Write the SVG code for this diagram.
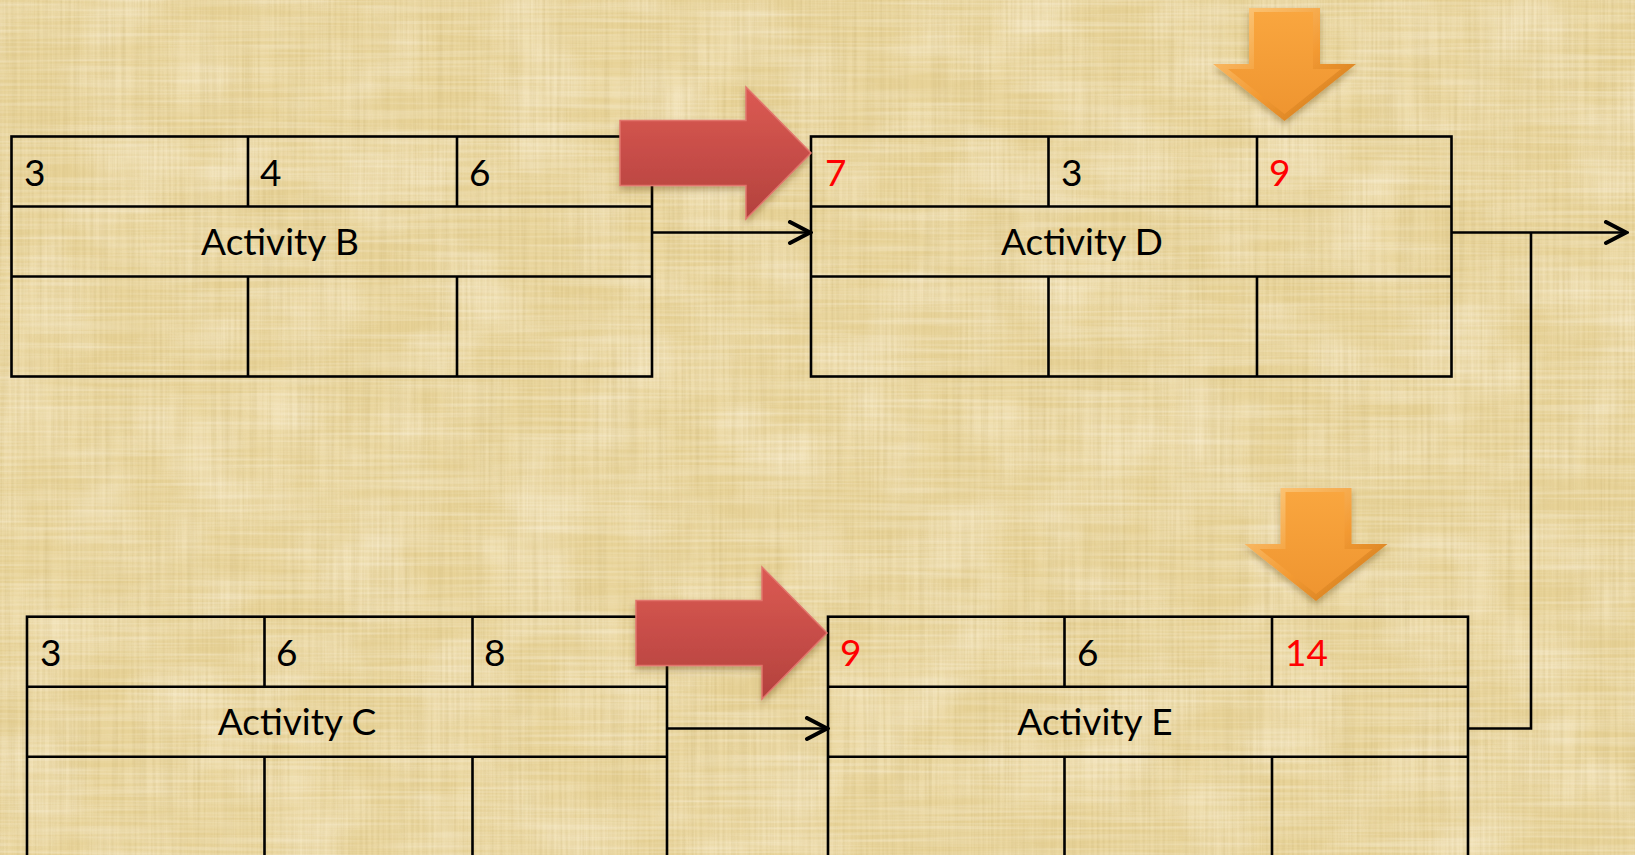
<svg xmlns="http://www.w3.org/2000/svg" width="1635" height="855" viewBox="0 0 1635 855">
<style>
.grid{fill:none;stroke:#000;stroke-width:2.6}
.num{font-family:Lato,"Liberation Sans",sans-serif;font-size:37px;fill:#000}
.red{fill:#ff0000}
.lbl{font-family:Lato,"Liberation Sans",sans-serif;font-size:37px;fill:#000;text-anchor:middle}
.conn{fill:none;stroke:#000;stroke-width:2.6}
</style>
<defs>
<filter id="fibV" x="0" y="0" width="100%" height="100%">
<feTurbulence type="fractalNoise" baseFrequency="0.35 0.006" numOctaves="2" seed="3"/>
<feColorMatrix type="matrix" values="0 0 0 0 0.6  0 0 0 0 0.46  0 0 0 0 0.18  0 0 0 1.2 -0.42"/>
</filter>
<filter id="fibH" x="0" y="0" width="100%" height="100%">
<feTurbulence type="fractalNoise" baseFrequency="0.006 0.3" numOctaves="2" seed="7"/>
<feColorMatrix type="matrix" values="0 0 0 0 1  0 0 0 0 0.96  0 0 0 0 0.86  0 0 0 1.1 -0.4"/>
</filter>
<filter id="blot" x="0" y="0" width="100%" height="100%">
<feTurbulence type="fractalNoise" baseFrequency="0.012 0.015" numOctaves="3" seed="11"/>
<feColorMatrix type="matrix" values="0 0 0 0 0.98  0 0 0 0 0.9  0 0 0 0 0.72  0 0 0 1.2 -0.45"/>
</filter>
<linearGradient id="redG" x1="0" y1="0" x2="0" y2="1">
<stop offset="0" stop-color="#dc5a53"/>
<stop offset="1" stop-color="#b3413d"/>
</linearGradient>
<linearGradient id="orOuter" x1="0" y1="0" x2="1" y2="1">
<stop offset="0" stop-color="#fdcf86"/>
<stop offset="0.55" stop-color="#f39a33"/>
<stop offset="1" stop-color="#c87418"/>
</linearGradient>
<linearGradient id="orInner" x1="0" y1="0" x2="0" y2="1">
<stop offset="0" stop-color="#f9a63f"/>
<stop offset="1" stop-color="#ef9530"/>
</linearGradient>
<filter id="shadow" x="-20%" y="-20%" width="140%" height="150%">
<feDropShadow dx="0" dy="4" stdDeviation="3" flood-color="#5a3a10" flood-opacity="0.35"/>
</filter>
<marker id="chev" viewBox="0 0 26 26" refX="23" refY="13" markerWidth="26" markerHeight="26" markerUnits="userSpaceOnUse" orient="auto">
<path d="M3,2.5 L23,13 L3,23.5" fill="none" stroke="#000" stroke-width="4" stroke-linecap="round" stroke-linejoin="miter"/>
</marker>
<path id="redArrow" d="M0,33.5 H126 V0 L191,66 L126,132 V98.5 H0 Z"/>
<path id="orArrowOut" d="M36,0 H107 V56 H143 L71.5,113 L0,56 H36 Z"/>
<path id="orArrowIn" d="M41,4 H100 V61 H128 L71.5,106 L15,61 H41 Z"/>
</defs>

<g id="background">
<rect x="0" y="0" width="1635" height="855" fill="#e8d398"/>
<rect x="0" y="0" width="1635" height="855" filter="url(#blot)" opacity="0.8"/>
<rect x="0" y="0" width="1635" height="855" filter="url(#fibV)" opacity="0.6"/>
<rect x="0" y="0" width="1635" height="855" filter="url(#fibH)" opacity="0.6"/>
</g>

<g id="node-B">
<rect class="grid" x="11.5" y="136.5" width="640.5" height="240"/>
<path class="grid" d="M11.5,206.5 H652 M11.5,276.5 H652 M248,136.5 V206.5 M457,136.5 V206.5 M248,276.5 V376.5 M457,276.5 V376.5"/>
<text class="num" x="24" y="186">3</text>
<text class="num" x="260" y="186">4</text>
<text class="num" x="469" y="186">6</text>
<text class="lbl" x="280" y="255">Activity B</text>
</g>

<g id="node-D">
<rect class="grid" x="811" y="136.5" width="640.5" height="240"/>
<path class="grid" d="M811,206.5 H1451.5 M811,276.5 H1451.5 M1048.5,136.5 V206.5 M1257,136.5 V206.5 M1048.5,276.5 V376.5 M1257,276.5 V376.5"/>
<text class="num red" x="825" y="186">7</text>
<text class="num" x="1061" y="186">3</text>
<text class="num red" x="1269" y="186">9</text>
<text class="lbl" x="1082" y="255">Activity D</text>
</g>

<g id="node-C">
<rect class="grid" x="27" y="616.7" width="640" height="260"/>
<path class="grid" d="M27,686.7 H667 M27,756.7 H667 M264.5,616.7 V686.7 M472.5,616.7 V686.7 M264.5,756.7 V860 M472.5,756.7 V860"/>
<text class="num" x="40" y="666">3</text>
<text class="num" x="276" y="666">6</text>
<text class="num" x="484" y="666">8</text>
<text class="lbl" x="297" y="735">Activity C</text>
</g>

<g id="node-E">
<rect class="grid" x="828" y="616.7" width="640" height="260"/>
<path class="grid" d="M828,686.7 H1468 M828,756.7 H1468 M1064.5,616.7 V686.7 M1272,616.7 V686.7 M1064.5,756.7 V860 M1272,756.7 V860"/>
<text class="num red" x="840" y="666">9</text>
<text class="num" x="1077" y="666">6</text>
<text class="num red" x="1285" y="666">14</text>
<text class="lbl" x="1095" y="735">Activity E</text>
</g>

<g id="connectors">
<path class="conn" d="M652,232.5 H810" marker-end="url(#chev)"/>
<path class="conn" d="M667,728.5 H827" marker-end="url(#chev)"/>
<path class="conn" d="M1451.5,232.5 H1626" marker-end="url(#chev)"/>
<path class="conn" d="M1468,728.5 H1531 V232.5"/>
</g>

<g id="arrow-red-top" transform="translate(620,87)">
<use href="#redArrow" fill="url(#redG)" stroke="#e2756c" stroke-width="1.5" filter="url(#shadow)"/>
</g>
<g id="arrow-red-bottom" transform="translate(636,567)">
<use href="#redArrow" fill="url(#redG)" stroke="#e2756c" stroke-width="1.5" filter="url(#shadow)"/>
</g>
<g id="arrow-orange-top" transform="translate(1213,8)">
<use href="#orArrowOut" fill="url(#orOuter)" filter="url(#shadow)"/>
<use href="#orArrowIn" fill="url(#orInner)"/>
</g>
<g id="arrow-orange-bottom" transform="translate(1244.5,488)">
<use href="#orArrowOut" fill="url(#orOuter)" filter="url(#shadow)"/>
<use href="#orArrowIn" fill="url(#orInner)"/>
</g>
</svg>
